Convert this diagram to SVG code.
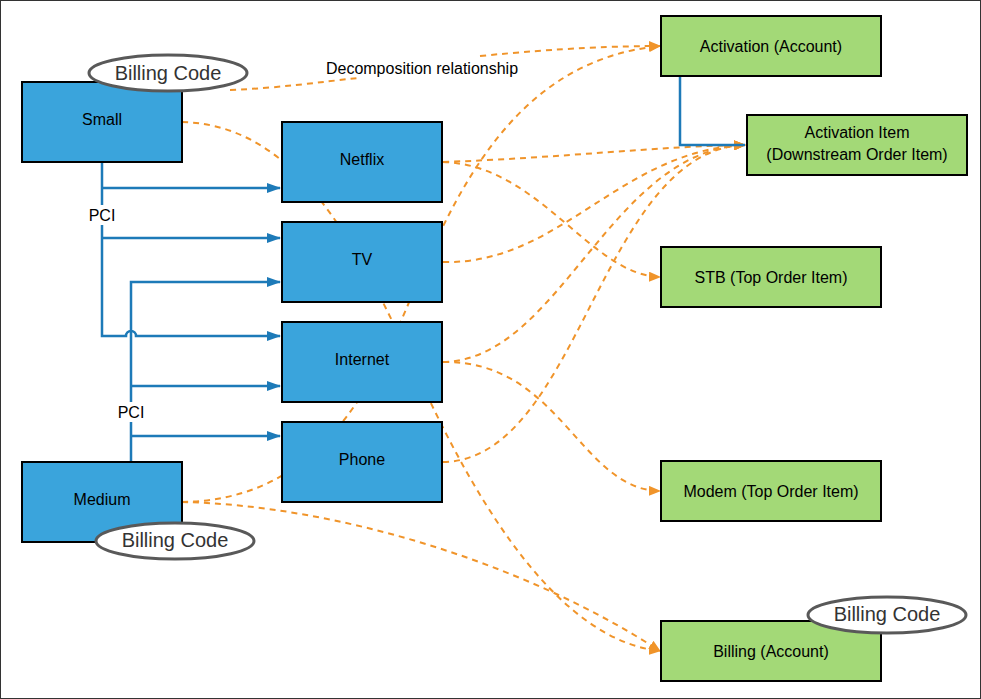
<svg xmlns="http://www.w3.org/2000/svg" width="981" height="699" viewBox="0 0 981 699">
<style>
text{font-family:"Liberation Sans",Arial,sans-serif;font-size:16px;fill:#000;text-anchor:middle;dominant-baseline:central}
.b rect{fill:#3aa4dc;stroke:#000;stroke-width:2}
.g rect{fill:#a3d977;stroke:#000;stroke-width:2}
.e ellipse{fill:#fff;stroke:#595959;stroke-width:3}
.e text{font-size:20px;fill:#333}
.o{fill:none;stroke:#f0942a;stroke-width:2;stroke-dasharray:6 5}
.p{fill:none;stroke:#1d7ab8;stroke-width:2.5}
</style>
<defs>
<marker id="ao" markerWidth="12" markerHeight="10" refX="11" refY="5" orient="auto" markerUnits="userSpaceOnUse"><path d="M0,0 L12,5 L0,10 z" fill="#f0942a"/></marker>
<marker id="ab" markerWidth="14" markerHeight="10" refX="13" refY="5" orient="auto" markerUnits="userSpaceOnUse"><path d="M0,0 L14,5 L0,10 z" fill="#1d7ab8"/></marker>
</defs>
<rect x="0.5" y="0.5" width="980" height="698" fill="#fff" stroke="#333"/>
<g id="connectors">
<path class="o" d="M182,122 C300,125 360,250 420,380 S560,640 660,651" marker-end="url(#ao)"/>
<path class="o" d="M182,502 C300,500 360,420 410,300 S520,60 660,46" marker-end="url(#ao)"/>
<path class="o" d="M182,502 C330,505 520,560 660,651" marker-end="url(#ao)"/>
<path class="o" d="M230,90 C280,88 320,82 358,78"/>
<path class="o" d="M480,56 C560,48 620,46 660,46" marker-end="url(#ao)"/>
<path class="o" d="M443,162 C560,158 660,146 745,145" marker-end="url(#ao)"/>
<path class="o" d="M443,162 C540,165 590,275 660,277" marker-end="url(#ao)"/>
<path class="o" d="M443,262 C560,265 620,150 745,145" marker-end="url(#ao)"/>
<path class="o" d="M443,362 C560,360 610,150 745,145" marker-end="url(#ao)"/>
<path class="o" d="M443,362 C560,360 580,490 660,491" marker-end="url(#ao)"/>
<path class="o" d="M443,462 C580,460 600,150 745,145" marker-end="url(#ao)"/>
<path class="p" d="M680,76 V145 H745"/>
<path class="p" d="M102,162 V336 H126 A5,5 0 0 1 136,336 H280" marker-end="url(#ab)"/>
<path class="p" d="M102,188 H280" marker-end="url(#ab)"/>
<path class="p" d="M102,238 H280" marker-end="url(#ab)"/>
<path class="p" d="M131,462 V282 H280" marker-end="url(#ab)"/>
<path class="p" d="M131,386 H280" marker-end="url(#ab)"/>
<path class="p" d="M131,436 H280" marker-end="url(#ab)"/>
<rect x="86" y="205" width="32" height="20" fill="#fff"/>
<text x="102" y="215">PCI</text>
<rect x="115" y="402" width="32" height="20" fill="#fff"/>
<text x="131" y="412">PCI</text>
<text x="422" y="68">Decomposition relationship</text>
</g>
<g id="small" class="b"><rect x="22" y="82" width="160" height="80"/><text x="102" y="119">Small</text></g>
<g id="netflix" class="b"><rect x="282" y="122" width="160" height="80"/><text x="362" y="159">Netflix</text></g>
<g id="tv" class="b"><rect x="282" y="222" width="160" height="80"/><text x="362" y="259">TV</text></g>
<g id="internet" class="b"><rect x="282" y="322" width="160" height="80"/><text x="362" y="359">Internet</text></g>
<g id="phone" class="b"><rect x="282" y="422" width="160" height="80"/><text x="362" y="459">Phone</text></g>
<g id="medium" class="b"><rect x="22" y="462" width="160" height="80"/><text x="102" y="499">Medium</text></g>
<g id="activation" class="g"><rect x="661" y="16" width="220" height="60"/><text x="771" y="46">Activation (Account)</text></g>
<g id="activation-item" class="g"><rect x="747" y="115" width="220" height="60"/><text x="857" y="132">Activation Item</text><text x="857" y="154">(Downstream Order Item)</text></g>
<g id="stb" class="g"><rect x="661" y="247" width="220" height="60"/><text x="771" y="277">STB (Top Order Item)</text></g>
<g id="modem" class="g"><rect x="661" y="461" width="220" height="60"/><text x="771" y="491">Modem (Top Order Item)</text></g>
<g id="billing" class="g"><rect x="661" y="621" width="220" height="60"/><text x="771" y="651">Billing (Account)</text></g>
<g id="bc1" class="e"><ellipse cx="168" cy="73" rx="79" ry="18"/><text x="168" y="73">Billing Code</text></g>
<g id="bc2" class="e"><ellipse cx="175" cy="541" rx="79" ry="18"/><text x="175" y="540">Billing Code</text></g>
<g id="bc3" class="e"><ellipse cx="887" cy="615" rx="79" ry="18"/><text x="887" y="614">Billing Code</text></g>
</svg>
